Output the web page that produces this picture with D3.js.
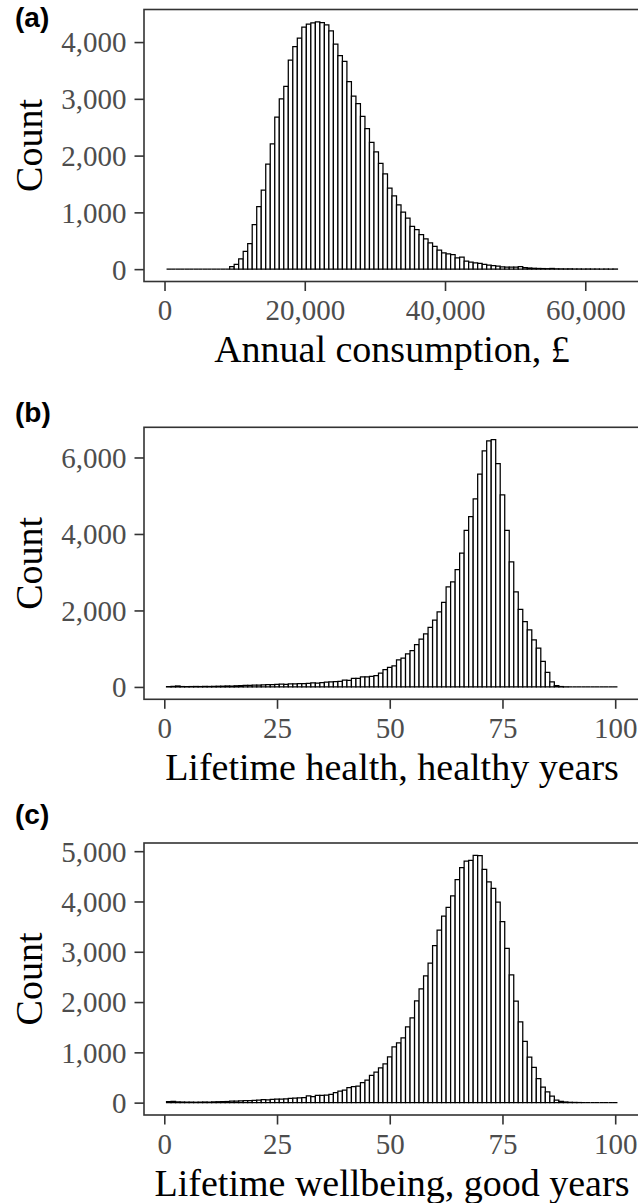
<!DOCTYPE html>
<html lang="en">
<head>
  <meta charset="UTF-8">
  <title>Histograms</title>
  <script src="https://cdn.jsdelivr.net/npm/d3@7"></script>
  <style>
    body { margin: 0; background: #fff; }
  </style>
</head>
<body>
<div id="chart"></div>

<script>
  // (a) annual consumption, 100 bins
  const A_BIN_START = 290
  const A_BIN_WIDTH = 643
  const A_COUNTS = [
    0, 0, 0, 0, 0, 0, 0, 0, 0, 0,
    0, 0, 0, 0, 45, 85, 180, 315, 450, 785,
    1100, 1390, 1850, 2205, 2680, 3000, 3220, 3680, 3920, 4070,
    4265, 4315, 4340, 4356, 4343, 4303, 4198, 3965, 3760, 3660,
    3305, 3047, 2914, 2692, 2476, 2231, 2067, 1863, 1676, 1426,
    1291, 1133, 1005, 900, 753, 695, 608, 532, 462, 403,
    333, 287, 270, 257, 200, 210, 140, 123, 112, 100,
    82, 70, 60, 53, 42, 35, 35, 35, 45, 25,
    20, 15, 12, 10, 8, 12, 6, 5, 4, 5,
    3, 3, 2, 3, 2, 2, 1, 2, 1, 2
  ]
  const A_X_TICKS = [0, 20000, 40000, 60000]
  const A_Y_TICKS = [0, 1000, 2000, 3000, 4000]

  // (b) lifetime health, 1-year bins
  const B_BIN_START = 0.5
  const B_BIN_WIDTH = 1
  const B_COUNTS = [
    8, 15, 25, 10, 8, 10, 12, 10, 14, 12,
    15, 18, 20, 25, 22, 30, 35, 40, 38, 50,
    48, 55, 60, 58, 65, 72, 70, 80, 78, 88,
    85, 95, 105, 100, 115, 125, 130, 140, 146, 180,
    172, 224, 224, 260, 260, 276, 294, 364, 450, 510,
    554, 710, 754, 866, 952, 1108, 1248, 1386, 1560, 1750,
    1966, 2211, 2616, 2747, 3069, 3501, 4091, 4455, 4915, 5566,
    6172, 6432, 6466, 5841, 5019, 4091, 3267, 2487, 2029, 1706,
    1490, 1230, 1014, 666, 380, 130, 34, 10, 3, 0,
    0, 0, 0, 0, 0, 0, 0, 0, 0, 0
  ]
  const B_X_TICKS = [0, 25, 50, 75, 100]
  const B_Y_TICKS = [0, 2000, 4000, 6000]

  // (c) lifetime wellbeing, 1-year bins
  const C_BIN_START = 0.5
  const C_BIN_WIDTH = 1
  const C_COUNTS = [
    20, 25, 15, 12, 10, 10, 8, 10, 12, 10,
    15, 18, 20, 22, 28, 30, 35, 40, 38, 45,
    50, 60, 55, 65, 68, 70, 75, 85, 90, 95,
    99, 132, 119, 145, 145, 151, 164, 198, 230, 250,
    297, 317, 329, 396, 448, 541, 606, 693, 772, 911,
    1109, 1188, 1287, 1505, 1683, 2026, 2263, 2521, 2772, 3121,
    3432, 3709, 3881, 4111, 4436, 4673, 4804, 4818, 4917, 4911,
    4637, 4390, 4260, 3985, 3600, 3069, 2541, 2020, 1604, 1220,
    905, 700, 478, 310, 214, 131, 51, 26, 13, 6,
    4, 2, 0, 0, 0, 0, 0, 0, 0, 0
  ]
  const C_X_TICKS = [0, 25, 50, 75, 100]
  const C_Y_TICKS = [0, 1000, 2000, 3000, 4000, 5000]

  const width = 638
  const height = 1203
  const panelLeft = 144
  const panelRight = 640
  const panelHeight = 272
  const tickLen = 9.5
  const serif = '"Liberation Serif", "Times New Roman", serif'
  const sans = '"Liberation Sans", Arial, sans-serif'

  const svg = d3.select('#chart')
    .append('svg')
    .attr('width', width)
    .attr('height', height)

  const drawPanel = ({tag, tagY, top, start, binWidth, counts, xTicks, yTicks, title}) => {
    const g = svg.append('g')
    const bins = counts.map((c, i) => ({x0: start + i * binWidth, x1: start + (i + 1) * binWidth, c}))
    const span = bins[bins.length - 1].x1 - bins[0].x0
    const maxC = d3.max(counts)

    // ggplot-style 5% expansion
    const x = d3.scaleLinear()
      .domain([bins[0].x0 - span * 0.05, bins[bins.length - 1].x1 + span * 0.05])
      .range([panelLeft, panelRight])
    const y = d3.scaleLinear()
      .domain([-maxC * 0.05, maxC * 1.05])
      .range([top + panelHeight, top])

    g.append('g')
      .attr('fill', '#fff')
      .attr('stroke', '#000')
      .attr('stroke-width', 1.25)
      .selectAll('path')
      .data(bins)
      .join('path')
      .attr('d', d => `M${x(d.x0)},${y(0)}V${y(d.c)}H${x(d.x1)}V${y(0)}Z`)

    g.append('rect')
      .attr('x', panelLeft)
      .attr('y', top)
      .attr('width', panelRight - panelLeft)
      .attr('height', panelHeight)
      .attr('fill', 'none')
      .attr('stroke', '#333')
      .attr('stroke-width', 1.6)

    const fmt = d3.format(',')

    const yAxis = g.append('g')
      .attr('transform', `translate(${panelLeft},0)`)
      .call(d3.axisLeft(y).tickValues(yTicks).tickFormat(fmt).tickSize(tickLen).tickPadding(8))
    const xAxis = g.append('g')
      .attr('transform', `translate(0,${top + panelHeight})`)
      .call(d3.axisBottom(x).tickValues(xTicks).tickFormat(fmt).tickSize(tickLen).tickPadding(10))

    for (const ax of [xAxis, yAxis]) {
      ax.select('.domain').remove()
      ax.selectAll('.tick line').attr('stroke', '#333').attr('stroke-width', 1.6)
      ax.selectAll('.tick text')
        .attr('fill', '#4d4d4d')
        .style('font-family', serif)
        .style('font-size', '29px')
    }
    yAxis.selectAll('.tick text').attr('dy', '0.34em')
    xAxis.selectAll('.tick text').attr('dy', null).attr('y', 38.5)

    g.append('text')
      .attr('transform', `translate(42,${top + panelHeight / 2}) rotate(-90)`)
      .attr('text-anchor', 'middle')
      .style('font-family', serif)
      .style('font-size', '38px')
      .text('Count')

    g.append('text')
      .attr('x', (panelLeft + panelRight) / 2)
      .attr('y', top + panelHeight + 80.5)
      .attr('text-anchor', 'middle')
      .style('font-family', serif)
      .style('font-size', '38px')
      .text(title)

    g.append('text')
      .attr('x', 15)
      .attr('y', tagY)
      .style('font-family', sans)
      .style('font-weight', 'bold')
      .style('font-size', '28px')
      .text(tag)
  }

  drawPanel({tag: '(a)', tagY: 27, top: 9.5, start: A_BIN_START, binWidth: A_BIN_WIDTH,
    counts: A_COUNTS, xTicks: A_X_TICKS, yTicks: A_Y_TICKS, title: 'Annual consumption, £'})
  drawPanel({tag: '(b)', tagY: 422, top: 427.3, start: B_BIN_START, binWidth: B_BIN_WIDTH,
    counts: B_COUNTS, xTicks: B_X_TICKS, yTicks: B_Y_TICKS, title: 'Lifetime health, healthy years'})
  drawPanel({tag: '(c)', tagY: 824, top: 843, start: C_BIN_START, binWidth: C_BIN_WIDTH,
    counts: C_COUNTS, xTicks: C_X_TICKS, yTicks: C_Y_TICKS, title: 'Lifetime wellbeing, good years'})
</script>
</body>
</html>
